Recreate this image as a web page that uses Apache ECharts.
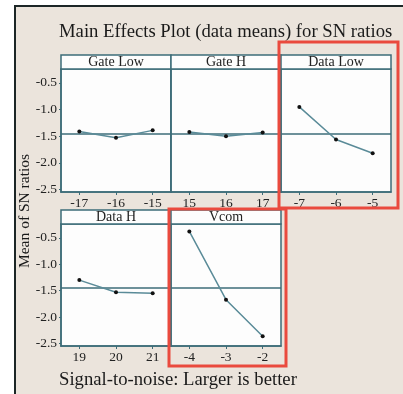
<!DOCTYPE html>
<html><head><meta charset="utf-8">
<script src="https://cdn.jsdelivr.net/npm/echarts@6/dist/echarts.min.js"></script>
<style>html,body{margin:0;padding:0;background:#fff}#c{width:403px;height:394px}</style>
</head><body><div id="c"></div>
<script>
// ---- data ----
const factorNames = ['Gate Low', 'Gate H', 'Data Low', 'Data H', 'Vcom'];
const gateLowLevels = ['-17', '-16', '-15'];
const gateLowMeans = [-1.41, -1.53, -1.39];
const gateHLevels = ['15', '16', '17'];
const gateHMeans = [-1.42, -1.50, -1.43];
const dataLowLevels = ['-7', '-6', '-5'];
const dataLowMeans = [-0.95, -1.56, -1.82];
const dataHLevels = ['19', '20', '21'];
const dataHMeans = [-1.30, -1.53, -1.55];
const vcomLevels = ['-4', '-3', '-2'];
const vcomMeans = [-0.38, -1.67, -2.36];
const yTickValues = [-0.5, -1.0, -1.5, -2.0, -2.5];
const titleText = 'Main Effects Plot (data means) for SN ratios';
const yAxisTitle = 'Mean of SN ratios';
const footerText = 'Signal-to-noise: Larger is better';

// ---- layout / style ----
const levels = [gateLowLevels, gateHLevels, dataLowLevels, dataHLevels, vcomLevels];
const means = [gateLowMeans, gateHMeans, dataLowMeans, dataHMeans, vcomMeans];
const allVals = means.flat();
const grandMean = allVals.reduce((a, b) => a + b, 0) / allVals.length;

const FONT = '"Liberation Serif", "DejaVu Serif", serif';
const FRAME = '#3d6c78';
const LINE = '#5a8b98';
const PW = 110;
const panels = [
  {left: 61, top: 69, h: 123},
  {left: 171, top: 69, h: 123},
  {left: 281, top: 69, h: 123},
  {left: 61, top: 224, h: 122},
  {left: 171, top: 224, h: 122}
];
const HEADER_H = 14;
const Y_MIN = -2.545, Y_MAX = -0.24;

const grids = [], xAxes = [], yAxes = [], series = [], graphics = [];

graphics.push({type: 'rect', z: -100, shape: {x: 15, y: 6, width: 400, height: 400},
  style: {fill: '#ebe4dc', stroke: null}});
graphics.push({type: 'polyline', z: 100, shape: {points: [[15, 400], [15, 6], [410, 6]]},
  style: {stroke: '#1c2626', lineWidth: 2, fill: null}});

panels.forEach((p, i) => {
  const firstCol = (p.left === 61);
  grids.push({left: p.left, top: p.top, width: PW, height: p.h, show: true,
    backgroundColor: '#fdfdfd', borderColor: FRAME, borderWidth: 1.5, containLabel: false});
  xAxes.push({type: 'category', gridIndex: i, data: levels[i], boundaryGap: true,
    axisLine: {lineStyle: {color: FRAME, width: 1.5}},
    axisTick: {show: true, alignWithLabel: true, length: 3, lineStyle: {color: FRAME}},
    axisLabel: {color: '#222', fontFamily: FONT, fontSize: 13.5, margin: 4},
    splitLine: {show: false}});
  yAxes.push({type: 'value', gridIndex: i, min: Y_MIN, max: Y_MAX,
    axisLine: {show: true, lineStyle: {color: FRAME, width: 1.5}},
    axisTick: {show: firstCol, length: 2, customValues: yTickValues, lineStyle: {color: FRAME}},
    axisLabel: {show: firstCol, customValues: yTickValues, color: '#222', fontFamily: FONT,
      fontSize: 13.5, margin: 4, formatter: v => v.toFixed(1)},
    splitLine: {show: false}});
  series.push({type: 'line', xAxisIndex: i, yAxisIndex: i, data: means[i],
    symbol: 'circle', symbolSize: 4, itemStyle: {color: '#111'},
    lineStyle: {color: LINE, width: 1.5}, z: 5,
    markLine: {silent: true, symbol: 'none', label: {show: false},
      lineStyle: {color: FRAME, width: 1.5, type: 'solid'},
      data: [{yAxis: grandMean}]}});
  // header strip
  graphics.push({type: 'rect', z: 10,
    shape: {x: p.left, y: p.top - HEADER_H, width: PW, height: HEADER_H},
    style: {fill: '#fdfdfd', stroke: FRAME, lineWidth: 1.5}});
  graphics.push({type: 'text', z: 11, x: p.left + PW / 2, y: p.top - HEADER_H / 2,
    style: {text: factorNames[i], font: '14px ' + FONT, fill: '#222',
      align: 'center', verticalAlign: 'middle'}});
});

// highlight boxes
graphics.push({type: 'rect', z: 50, shape: {x: 279, y: 42, width: 119, height: 166},
  style: {fill: null, stroke: '#ea4a3e', lineWidth: 3}});
graphics.push({type: 'rect', z: 50, shape: {x: 169, y: 209, width: 117, height: 157},
  style: {fill: null, stroke: '#ea4a3e', lineWidth: 3}});

graphics.push({type: 'text', z: 20, x: 59, y: 32,
  style: {text: titleText, font: '18.7px ' + FONT, fill: '#1a1a1a', verticalAlign: 'middle'}});
graphics.push({type: 'text', z: 20, x: 59, y: 380,
  style: {text: footerText, font: '18.7px ' + FONT, fill: '#1a1a1a', verticalAlign: 'middle'}});
graphics.push({type: 'text', z: 20, x: 25, y: 211, rotation: Math.PI / 2,
  style: {text: yAxisTitle, font: '15.5px ' + FONT, fill: '#1a1a1a',
    align: 'center', verticalAlign: 'middle'}});

const chart = echarts.init(document.getElementById('c'), null, {renderer: 'canvas'});
chart.setOption({
  backgroundColor: '#ffffff',
  animation: false,
  grid: grids, xAxis: xAxes, yAxis: yAxes, series: series,
  graphic: graphics
});
</script></body></html>
